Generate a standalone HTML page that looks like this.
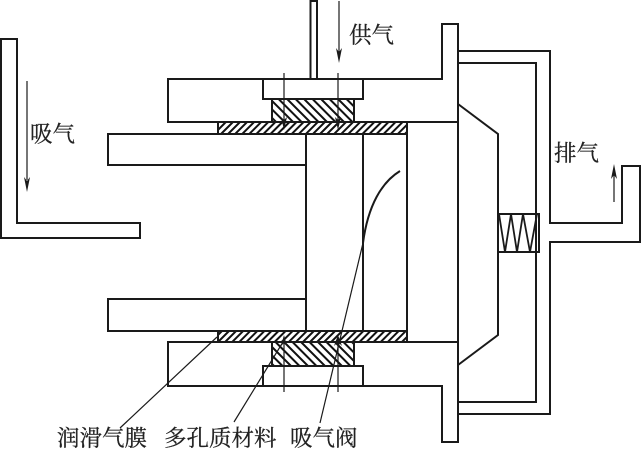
<!DOCTYPE html>
<html lang="zh">
<head>
<meta charset="utf-8">
<style>
html,body{margin:0;padding:0;background:#fff;width:641px;height:453px;overflow:hidden}
svg{display:block}
text{font-family:"Liberation Serif","Noto Serif CJK SC",serif;font-size:22.5px;fill:#222;stroke:#222;stroke-width:.25px}
</style>
</head>
<body>
<svg width="641" height="453" viewBox="0 0 641 453" xmlns="http://www.w3.org/2000/svg">
<defs>
<pattern id="f" patternUnits="userSpaceOnUse" width="5" height="5" patternTransform="rotate(45)">
<rect width="5" height="5" fill="#fff"/><rect width="2" height="5" fill="#111"/>
</pattern>
<pattern id="b" patternUnits="userSpaceOnUse" width="6" height="6" patternTransform="rotate(-45)">
<rect width="6" height="6" fill="#fff"/><rect width="2" height="6" fill="#111"/>
</pattern>
</defs>
<rect width="641" height="453" fill="#fff"/>

<!-- hatching -->
<rect x="272" y="99" width="82" height="23" fill="url(#b)"/>
<rect x="272" y="342" width="82" height="24" fill="url(#b)"/>
<rect x="218" y="122" width="189" height="12" fill="url(#f)"/>
<rect x="218" y="331" width="189" height="11" fill="url(#f)"/>

<g fill="none" stroke="#1a1a1a" stroke-width="2" stroke-linejoin="miter">
<!-- left intake pipe -->
<path d="M1 39H17V223H140V238H1Z"/>
<!-- top supply pipe -->
<path d="M310.500 0V79M317 0V79"/>
<path d="M310.500 1H317"/>
<!-- top flange -->
<path d="M458 122H168V79H442V24H458V442H442V386H168V342H458"/>
<!-- bushes -->
<path d="M263 79V99H363V79"/>
<path d="M272 99V122M354 99V122"/>
<path d="M263 386V366H363V386"/>
<path d="M272 342V366M354 342V366"/>
<!-- film outlines -->
<path d="M218 122V134M407 122V342M218 331V342"/>
<!-- rods -->
<path d="M407 134H108V165H306M407 331H108V299H306"/>
<path d="M306 134V331M363 134V331"/>
<!-- diaphragm -->
<path d="M458 104L498 134V335L458 365"/>
<!-- right housing -->
<path d="M458 51H550V223H622V166H640V242H550V414H458"/>
<path d="M458 63H536V402H458"/>
<!-- spring -->
<rect x="498" y="214" width="41" height="38"/>
<path d="M499 214L505 252L511 214L517 252L523 214L530 252L537 214" stroke-width="1.800"/>
</g>

<!-- valve flap -->
<path d="M400 171C382 182 368 205 363 243" fill="none" stroke="#1a1a1a" stroke-width="2"/>

<!-- thin lines -->
<g fill="none" stroke="#1a1a1a" stroke-width="1.200">
<path d="M27 81V180"/>
<path d="M339 1V52"/>
<path d="M614 202V172"/>
<path d="M284 73V122"/>
<path d="M338 73V126"/>
<path d="M284 392V340"/>
<path d="M338 392V340"/>
<path d="M217 337L120 428"/>
<path d="M283 342L234 422"/>
<path d="M363 243L320 423"/>
</g>

<!-- arrowheads -->
<g fill="#1a1a1a">
<path d="M24 177L27 181L30 177L27 192Z"/>
<path d="M336 48L339 52L342 48L339 63Z"/>
<path d="M611 179L614 175L617 179L614 164Z"/>
<path d="M281 117L284 120L287 117L284 130Z"/>
<path d="M335 117L338 120L341 117L338 130Z"/>
<path d="M281 346L284 343L287 346L284 335Z"/>
<path d="M334 346L338 342L342 346L338 335Z"/>
<circle cx="338" cy="342" r="2.500"/>
</g>

<!-- labels -->
<text x="349" y="43">供气</text>
<text x="30" y="142">吸气</text>
<text x="554" y="161">排气</text>
<text x="57" y="446">润滑气膜</text>
<text x="164" y="446">多孔质材料</text>
<text x="290" y="446">吸气阀</text>
</svg>
</body>
</html>
